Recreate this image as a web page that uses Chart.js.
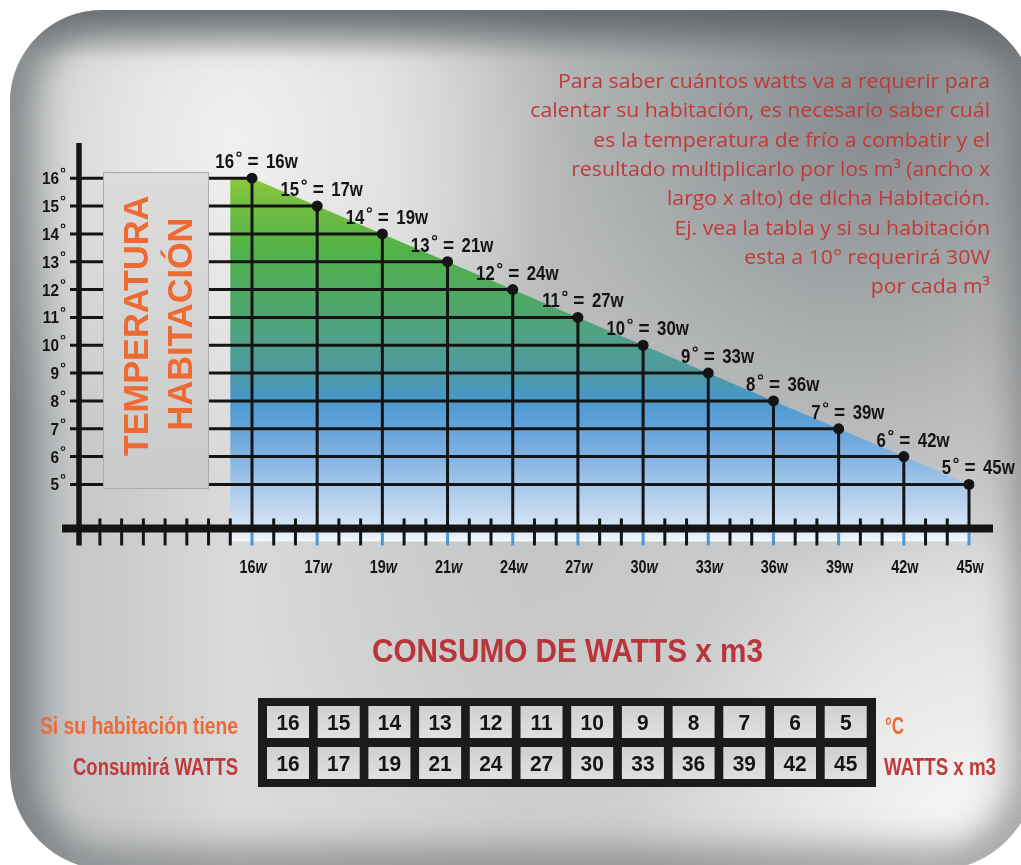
<!DOCTYPE html>
<html>
<head>
<meta charset="utf-8">
<script src="https://cdn.jsdelivr.net/npm/chart.js@4"></script>
<style>
  html, body { margin: 0; padding: 0; background: #fff; overflow: hidden; }
  #wrap { width: 1021px; height: 865px; position: relative; }
  canvas { display: block; }
</style>
</head>
<body>
<div id="wrap"><canvas id="c" width="1021" height="865"></canvas></div>
<script>
// ---- data ----
const wattLabels = ['16w', '17w', '19w', '21w', '24w', '27w', '30w', '33w', '36w', '39w', '42w', '45w'];
const temperatures = [16, 15, 14, 13, 12, 11, 10, 9, 8, 7, 6, 5];
const wattsPerM3 = [16, 17, 19, 21, 24, 27, 30, 33, 36, 39, 42, 45];
const yTickValues = [16, 15, 14, 13, 12, 11, 10, 9, 8, 7, 6, 5];
const introLines = [
  'Para saber cuántos watts va a requerir para',
  'calentar su habitación, es necesario saber cuál',
  'es la temperatura de frío a combatir y el',
  'resultado multiplicarlo por los m³ (ancho x',
  'largo x alto) de dicha Habitación.',
  'Ej. vea la tabla y si su habitación',
  'esta a 10° requerirá 30W',
  'por cada m³'
];
const sideTitle = ['TEMPERATURA', 'HABITACIÓN'];
const chartTitle = 'CONSUMO DE WATTS x m3';
const rowLabelsLeft = ['Si su habitación tiene', 'Consumirá WATTS'];
const rowLabelsRight = ['°C', 'WATTS x m3'];

// ---- styling ----
const SANS = '"Liberation Sans", Arial, sans-serif';
const BODY = '"Open Sans", "Noto Sans", sans-serif';
const INK = '#141414';
const ORANGE = '#ee6a33';
const RED = '#c0393b';
const ITALIC_UNIT_COUNT = 8;   // first x labels use an italic "w"
const AXIS_VALUE = 3.42;       // temperature level where the horizontal axis sits

function txt(ctx, s, x, y, font, color, align, sx) {
  ctx.save();
  ctx.font = font;
  ctx.fillStyle = color;
  ctx.textBaseline = 'alphabetic';
  ctx.textAlign = 'left';
  const w = ctx.measureText(s).width * (sx || 1);
  const x0 = align === 'center' ? x - w / 2 : align === 'right' ? x - w : x;
  ctx.translate(x0, y);
  ctx.scale(sx || 1, 1);
  ctx.fillText(s, 0, 0);
  ctx.restore();
  return w;
}
function fitText(ctx, s, x, y, width, font, color, align) {
  ctx.save();
  ctx.font = font;
  const m = ctx.measureText(s).width;
  ctx.restore();
  return txt(ctx, s, x, y, font, color, align, width / m);
}
function degree(ctx, cx, cy, r, lw) {
  ctx.save();
  ctx.beginPath();
  ctx.arc(cx, cy, r, 0, Math.PI * 2);
  ctx.strokeStyle = INK;
  ctx.lineWidth = lw;
  ctx.stroke();
  ctx.restore();
}
function panelPath(l, t, r, b, rad) {
  const p = new Path2D();
  p.moveTo(l + rad[0], t);
  p.lineTo(r - rad[1], t);
  p.arcTo(r, t, r, t + rad[1], rad[1]);
  p.lineTo(r, b - rad[2]);
  p.arcTo(r, b, r - rad[2], b, rad[2]);
  p.lineTo(l + rad[3], b);
  p.arcTo(l, b, l, b - rad[3], rad[3]);
  p.lineTo(l, t + rad[0]);
  p.arcTo(l, t, l + rad[0], t, rad[0]);
  p.closePath();
  return p;
}

// background panel, explanatory paragraph, title and lookup table
const backdrop = {
  id: 'backdrop',
  beforeDraw(chart) {
    const ctx = chart.ctx;
    ctx.save();
    ctx.fillStyle = '#ffffff';
    ctx.fillRect(0, 0, 1021, 865);

    const panel = panelPath(10, 10, 1036, 870, [92, 100, 100, 100]);
    ctx.save();
    ctx.clip(panel);
    let g = ctx.createLinearGradient(10, 0, 1036, 0);
    g.addColorStop(0, '#a2a6a8');
    g.addColorStop(0.06, '#c4c6c7');
    g.addColorStop(0.22, '#d9dad9');
    g.addColorStop(0.5, '#cecfcf');
    g.addColorStop(0.8, '#d2d3d3');
    g.addColorStop(1, '#dadada');
    ctx.fillStyle = g;
    ctx.fillRect(0, 0, 1040, 880);

    const blob = (x, y, r, c0, c1) => {
      const rg = ctx.createRadialGradient(x, y, 0, x, y, r);
      rg.addColorStop(0, c0);
      rg.addColorStop(1, c1);
      ctx.fillStyle = rg;
      ctx.fillRect(0, 0, 1040, 880);
    };
    blob(880, 100, 500, 'rgba(112,117,120,0.8)', 'rgba(112,117,120,0)');
    blob(230, 140, 340, 'rgba(246,246,244,0.8)', 'rgba(246,246,244,0)');
    blob(960, 830, 330, 'rgba(250,250,248,0.9)', 'rgba(250,250,248,0)');
    blob(560, 520, 330, 'rgba(175,178,180,0.35)', 'rgba(175,178,180,0)');

    // top edge band
    const tg = ctx.createLinearGradient(0, 10, 0, 60);
    tg.addColorStop(0, 'rgba(110,115,118,0.75)');
    tg.addColorStop(1, 'rgba(110,115,118,0)');
    ctx.fillStyle = tg;
    ctx.fillRect(0, 0, 1040, 60);

    // inner edge shading
    ctx.save();
    ctx.translate(-3000, 0);
    ctx.shadowColor = 'rgba(70,74,78,0.8)';
    ctx.shadowBlur = 40;
    ctx.shadowOffsetX = 3000;
    ctx.lineWidth = 26;
    ctx.strokeStyle = '#000';
    ctx.stroke(panel);
    ctx.restore();
    ctx.restore();

    // explanatory paragraph
    ctx.save();
    const pFont = '20px ' + BODY;
    ctx.font = pFont;
    const sx = 432 / ctx.measureText(introLines[0]).width;
    ctx.restore();
    introLines.forEach((line, i) => {
      txt(ctx, line, 990, 88 + i * 29.3, pFont, RED, 'right', sx);
    });

    // title
    fitText(ctx, chartTitle, 372, 662, 391, 'bold 34px ' + SANS, '#b8363a', 'left');

    // lookup table
    const tl = 258, tt = 698, tr = 876, tb = 787;
    ctx.fillStyle = '#1b1b1b';
    ctx.fillRect(tl, tt, tr - tl, tb - tt);
    const rows = [temperatures, wattsPerM3];
    const rowTop = [706, 747];
    const cellW = 42, cellH = 32, pitch = 50.7, firstX = 267;
    rows.forEach((vals, r) => {
      vals.forEach((v, i) => {
        const cx = firstX + i * pitch;
        const cg = ctx.createLinearGradient(0, rowTop[r], 0, rowTop[r] + cellH);
        cg.addColorStop(0, '#cfd0d0');
        cg.addColorStop(1, '#e0e0e0');
        ctx.fillStyle = cg;
        ctx.fillRect(cx, rowTop[r], cellW, cellH);
        txt(ctx, String(v), cx + cellW / 2, rowTop[r] + 24, 'bold 22px ' + SANS, INK, 'center', 0.95);
      });
    });
    fitText(ctx, rowLabelsLeft[0], 238, 734, 198, 'bold 23px ' + SANS, ORANGE, 'right');
    fitText(ctx, rowLabelsLeft[1], 238, 775, 165, 'bold 23px ' + SANS, RED, 'right');
    fitText(ctx, rowLabelsRight[0], 885, 734, 19, 'bold 23px ' + SANS, ORANGE, 'left');
    fitText(ctx, rowLabelsRight[1], 884, 775, 112, 'bold 23px ' + SANS, RED, 'left');
    ctx.restore();
  }
};

// graded fill, step grid, axes, ticks and the side title box
const frame = {
  id: 'frame',
  beforeDatasetsDraw(chart) {
    const ctx = chart.ctx;
    const xs = chart.scales.x, ys = chart.scales.y;
    const axisY = ys.getPixelForValue(AXIS_VALUE);
    const n = temperatures.length;
    ctx.save();

    // graded area under the temperature line
    const fillStart = xs.getPixelForValue(-1 / 3);
    const topY = ys.getPixelForValue(temperatures[0]);
    const floorY = axisY + 13;
    const g = ctx.createLinearGradient(0, topY, 0, floorY);
    g.addColorStop(0.00, '#8dc63f');
    g.addColorStop(0.07, '#74bf41');
    g.addColorStop(0.20, '#52b148');
    g.addColorStop(0.35, '#4ea76a');
    g.addColorStop(0.45, '#50a08a');
    g.addColorStop(0.53, '#4f9a9e');
    g.addColorStop(0.60, '#4898c8');
    g.addColorStop(0.66, '#5a9fd9');
    g.addColorStop(0.76, '#7fb0e0');
    g.addColorStop(0.84, '#a3c6ea');
    g.addColorStop(0.93, '#c9dcf2');
    g.addColorStop(0.98, '#e4edf8');
    g.addColorStop(1.00, '#f4f7fc');
    ctx.beginPath();
    ctx.moveTo(fillStart, floorY);
    ctx.lineTo(fillStart, topY);
    temperatures.forEach((t, i) => ctx.lineTo(xs.getPixelForValue(i), ys.getPixelForValue(t)));
    ctx.lineTo(xs.getPixelForValue(n - 1), floorY);
    ctx.closePath();
    ctx.fillStyle = g;
    ctx.fill();

    // step grid: horizontal rule from the vertical axis to each point, drop line to the axis
    ctx.strokeStyle = INK;
    ctx.lineWidth = 3;
    ctx.lineCap = 'butt';
    temperatures.forEach((t, i) => {
      const px = xs.getPixelForValue(i), py = ys.getPixelForValue(t);
      ctx.beginPath();
      ctx.moveTo(70, py);
      ctx.lineTo(px, py);
      ctx.moveTo(px, py);
      ctx.lineTo(px, axisY);
      ctx.stroke();
    });

    // vertical axis
    ctx.lineWidth = 5.5;
    ctx.beginPath();
    ctx.moveTo(79, 143);
    ctx.lineTo(79, axisY + 17);
    ctx.stroke();

    // minor ticks and blue category ticks
    ctx.lineWidth = 3;
    for (let k = -7; k <= (n - 1) * 3; k++) {
      const px = xs.getPixelForValue(k / 3);
      if (k >= 0 && k % 3 === 0) {
        ctx.strokeStyle = '#4f95d3';
        ctx.beginPath();
        ctx.moveTo(px, axisY + 4);
        ctx.lineTo(px, axisY + 17);
        ctx.stroke();
      } else {
        ctx.strokeStyle = INK;
        ctx.beginPath();
        ctx.moveTo(px, axisY - 10);
        ctx.lineTo(px, axisY + 17);
        ctx.stroke();
      }
    }

    // horizontal axis
    ctx.strokeStyle = INK;
    ctx.lineWidth = 8;
    ctx.beginPath();
    ctx.moveTo(62, axisY);
    ctx.lineTo(993, axisY);
    ctx.stroke();

    // side title box
    const bg = ctx.createLinearGradient(0, 172, 0, 489);
    bg.addColorStop(0, '#dcdcdb');
    bg.addColorStop(1, '#c9cacb');
    ctx.fillStyle = bg;
    ctx.fillRect(103, 172, 106, 317);
    ctx.strokeStyle = '#a9abac';
    ctx.lineWidth = 1;
    ctx.strokeRect(103.5, 172.5, 105, 316);
    [[148, 326], [192, 324]].forEach(([bx, cy], i) => {
      ctx.save();
      ctx.translate(bx, cy);
      ctx.rotate(-Math.PI / 2);
      txt(ctx, sideTitle[i], 0, 0, 'bold 35px ' + SANS, ORANGE, 'center', 0.98);
      ctx.restore();
    });

    // temperature tick labels
    yTickValues.forEach(v => {
      const py = ys.getPixelForValue(v);
      txt(ctx, String(v), 59, py + 6, 'bold 17px ' + SANS, INK, 'right', 0.9);
      degree(ctx, 63, py - 8, 1.8, 1.1);
    });

    // watt tick labels
    wattLabels.forEach((lab, i) => {
      const px = xs.getPixelForValue(i) + 1;
      const num = lab.slice(0, -1), unit = lab.slice(-1);
      const f1 = 'bold 18px ' + SANS;
      const f2 = (i < ITALIC_UNIT_COUNT ? 'italic ' : '') + 'bold 18px ' + SANS;
      ctx.save();
      ctx.font = f1;
      const w1 = ctx.measureText(num).width * 0.8;
      ctx.font = f2;
      const w2 = ctx.measureText(unit).width * 0.8;
      ctx.restore();
      const x0 = px - (w1 + w2) / 2;
      txt(ctx, num, x0, 573, f1, INK, 'left', 0.8);
      txt(ctx, unit, x0 + w1, 573, f2, INK, 'left', 0.8);
    });
    ctx.restore();
  },
  afterDatasetsDraw(chart) {
    const ctx = chart.ctx;
    const xs = chart.scales.x, ys = chart.scales.y;
    const f = 'bold 20px ' + SANS;
    temperatures.forEach((t, i) => {
      const px = xs.getPixelForValue(i), py = ys.getPixelForValue(t);
      const base = py - 10;
      txt(ctx, String(t), px - 18, base, f, INK, 'right', 0.84);
      degree(ctx, px - 13, base - 14, 2, 1.2);
      txt(ctx, '=', px + 1, base, f, INK, 'center', 0.95);
      txt(ctx, wattsPerM3[i] + 'w', px + 14, base, f, INK, 'left', 0.84);
    });
  }
};

new Chart(document.getElementById('c'), {
  type: 'line',
  data: {
    labels: wattLabels,
    datasets: [{
      label: 'Temperatura',
      data: temperatures,
      showLine: false,
      fill: false,
      pointRadius: 5.5,
      pointHoverRadius: 5.5,
      pointBorderWidth: 0,
      pointBackgroundColor: INK,
      borderColor: INK
    }]
  },
  options: {
    responsive: false,
    devicePixelRatio: 1,
    animation: false,
    events: [],
    layout: { padding: { left: 252, right: 52, top: 142, bottom: 336 } },
    plugins: { legend: { display: false }, tooltip: { enabled: false } },
    scales: {
      x: { type: 'category', display: false, offset: false },
      y: { type: 'linear', display: false, min: 3.4, max: 17.3 }
    }
  },
  plugins: [backdrop, frame]
});
</script>
</body>
</html>
